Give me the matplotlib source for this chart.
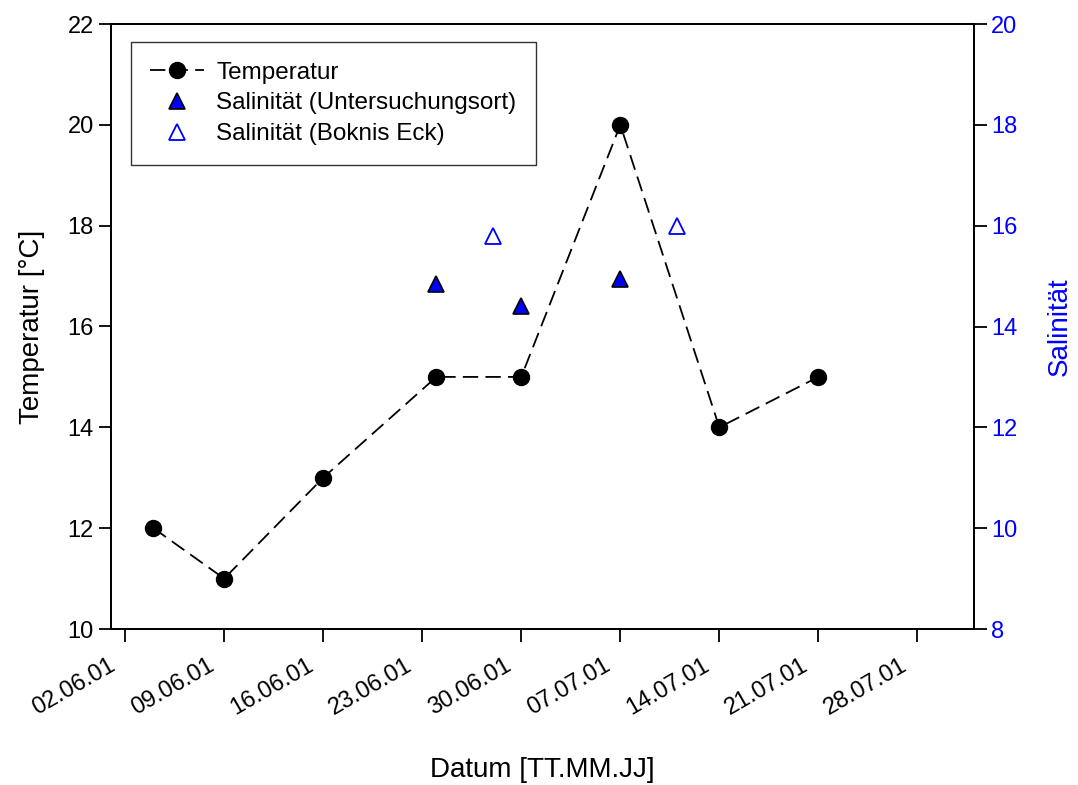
import numpy as np
import pandas as pd
import matplotlib
matplotlib.use('Agg')
import matplotlib.pyplot as plt
import matplotlib.dates as mdates
import matplotlib.transforms as mtransforms

plt.rcParams['font.family'] = ['Liberation Sans', 'DejaVu Sans']

# Temperatur-Messungen
temp_datum = pd.to_datetime(['2001-06-04', '2001-06-09', '2001-06-16', '2001-06-24',
                             '2001-06-30', '2001-07-07', '2001-07-14', '2001-07-21'])
temperatur = [12, 11, 13, 15, 15, 20, 14, 15]

# Salinitaet am Untersuchungsort
sal_ort_datum = pd.to_datetime(['2001-06-24', '2001-06-30', '2001-07-07'])
sal_ort = [14.85, 14.4, 14.95]

# Salinitaet Boknis Eck
sal_be_datum = pd.to_datetime(['2001-06-28', '2001-07-11'])
sal_be = [15.8, 16.0]

tick_datum = pd.date_range('2001-06-02', '2001-07-28', freq='7D')

fig = plt.figure(figsize=(10.78, 7.85), dpi=100)
ax = fig.add_axes([111/1078, 1 - 629/785, (974-111)/1078, (629-24)/785])
ax2 = ax.twinx()

l1, = ax.plot(temp_datum, temperatur, color='black', linestyle=(0, (8.5, 4)), linewidth=1.3,
              marker='o', markersize=11.5, markerfacecolor='black', markeredgecolor='black',
              label='Temperatur')
l2, = ax2.plot(sal_ort_datum, sal_ort, linestyle='none', marker='^', markersize=11,
               markerfacecolor='blue', markeredgecolor='black', markeredgewidth=1.2,
               label='Salinität (Untersuchungsort)')
l3, = ax2.plot(sal_be_datum, sal_be, linestyle='none', marker='^', markersize=11,
               markerfacecolor='white', markeredgecolor='blue', markeredgewidth=1.3,
               label='Salinität (Boknis Eck)')

ax.set_xlim(pd.Timestamp('2001-06-01'), pd.Timestamp('2001-08-01'))
ax.set_ylim(10, 22)
ax.set_yticks(range(10, 23, 2))
ax2.set_ylim(8, 20)
ax2.set_yticks(range(8, 21, 2))

ax.set_xticks(tick_datum)
ax.xaxis.set_major_formatter(mdates.DateFormatter('%d.%m.%y'))

ax.tick_params(direction='out', length=9, width=1.3, labelsize=17)
ax2.tick_params(direction='out', length=9, width=1.3, labelsize=17, labelcolor='blue')
ax.tick_params(axis='x', pad=8)
for a in (ax, ax2):
    for s in a.spines.values():
        s.set_linewidth(1.3)

# Datumsbeschriftung schraeg und etwas nach links verschoben
shift = mtransforms.ScaledTranslation(-0.17, -0.02, fig.dpi_scale_trans)
for tick in ax.xaxis.get_major_ticks():
    lbl = tick.label1
    lbl.set_rotation(30)
    lbl.set_ha('right')
    lbl.set_rotation_mode('anchor')
    lbl.set_transform(lbl.get_transform() + shift)

ax.set_ylabel('Temperatur [°C]', fontsize=20, labelpad=16)
ax2.set_ylabel('Salinität', fontsize=20, color='blue', labelpad=21)
ax.set_xlabel('Datum [TT.MM.JJ]', fontsize=20)
ax.xaxis.set_label_coords(0.5, -0.211)

leg = ax2.legend(handles=[l1, l2, l3], loc='upper left', bbox_to_anchor=(0.0232, 0.970),
                 borderaxespad=0, fontsize=17.5, frameon=True, fancybox=False,
                 edgecolor='black', handlelength=2.2, borderpad=0.8, labelspacing=0.36,
                 handletextpad=0.5)
leg.get_frame().set_linewidth(1.0)

fig.savefig('out.png', dpi=100)
